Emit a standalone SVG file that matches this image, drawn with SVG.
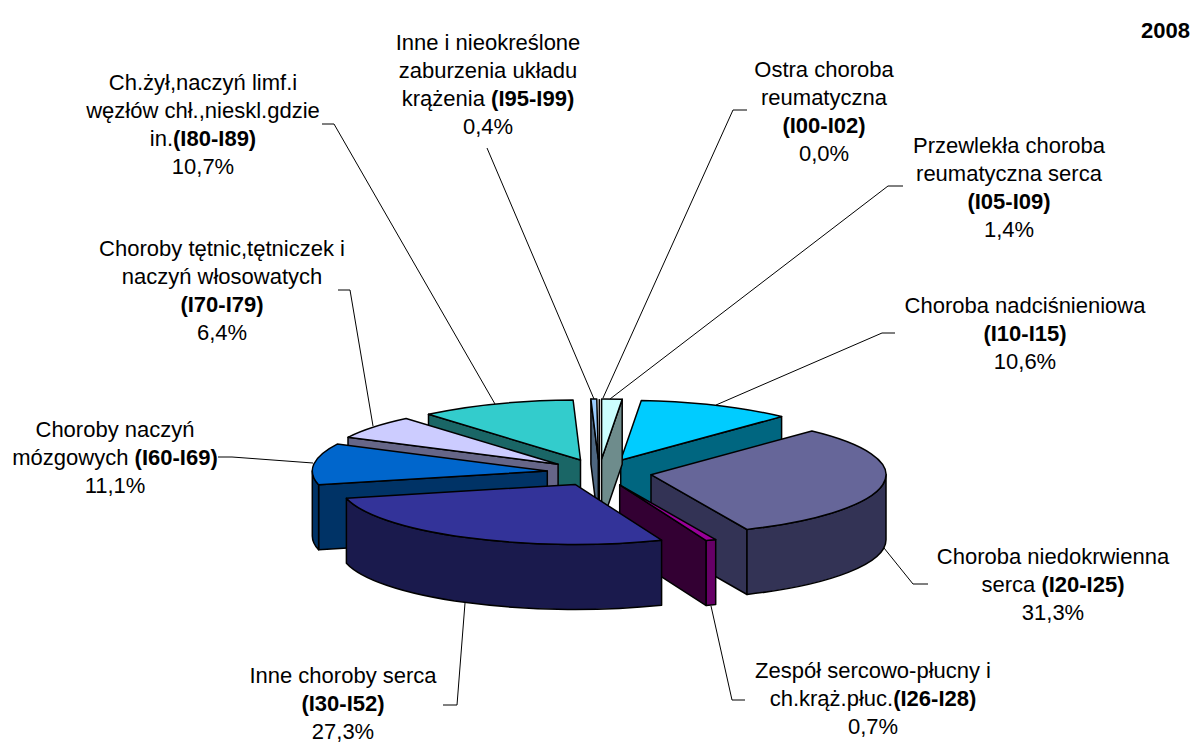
<svg xmlns="http://www.w3.org/2000/svg" width="1196" height="742" viewBox="0 0 1196 742">
<style>
text{font-family:"Liberation Sans",Arial,sans-serif;font-size:22px;fill:#000;text-anchor:middle}
.b{font-weight:bold}
.s path{stroke:#000;stroke-width:1.5;stroke-linejoin:round}
.lead{fill:none;stroke:#000;stroke-width:1}
</style>
<rect width="1196" height="742" fill="#fff"/>
<g id="slice-zyl" class="s">
<path d="M580.5,460 L428.5,414.3 L428.5,479.3 L580.5,525 Z" fill="#1A6666"/>
<path d="M580.5,460 L428.5,414.3 A235,60 0 0 1 573.1,400 Z" fill="#33CCCC"/>
</g>
<g id="slice-nadcisnieniowa" class="s">
<path d="M620.7,460.3 L781.6,416.6 L781.6,481.6 L620.7,525.3 Z" fill="#006680"/>
<path d="M620.7,460.3 L641.3,400.5 A235,60 0 0 1 781.6,416.6 Z" fill="#00CCFF"/>
</g>
<g id="slice-inne-nieokreslone" class="s">
<path d="M598.3,459.1 L590.9,399.1 L590.9,464.1 L598.3,524.1 Z" fill="#4D6680"/>
<path d="M598.3,459.1 L590.9,399.1 A235,60 0 0 1 596.8,399.1 Z" fill="#99CCFF"/>
</g>
<g id="slice-przewlekla" class="s">
<path d="M601.6,459.1 L622.2,399.3 L622.2,464.3 L601.6,524.1 Z" fill="#6E8C8C"/>
<path d="M601.6,459.1 L601.6,399.1 A235,60 0 0 1 622.2,399.3 Z" fill="#CCFFFF"/>
</g>
<g id="slice-ostra" class="s">
<path d="M599.3,399.1 L599.3,524.1" fill="none" stroke-width="2.5"/>
</g>
<g id="slice-tetnic" class="s">
<path d="M558.1,464.2 L348,437.3 L348,502.3 L558.1,529.2 Z" fill="#666688"/>
<path d="M558.1,464.2 L348,437.3 A235,60 0 0 1 406.1,418.5 Z" fill="#CCCCFF"/>
</g>
<g id="slice-mozgowych" class="s">
<path d="M547.3,471 L318.6,484.8 L318.6,549.8 L547.3,536 Z" fill="#003366"/>
<path d="M318.6,484.8 A235,60 0 0 1 312.3,471 L312.3,536 A235,60 0 0 0 318.6,549.8 Z" fill="#003366"/>
<path d="M547.3,471 L318.6,484.8 A235,60 0 0 1 337.2,444.1 Z" fill="#0066CC"/>
</g>
<g id="slice-niedokrwienna" class="s">
<path d="M651,474.7 L747,529.5 L747,594.5 L651,539.7 Z" fill="#333355"/>
<path d="M886,474.7 A235,60 0 0 1 747,529.5 L747,594.5 A235,60 0 0 0 886,539.7 Z" fill="#333355"/>
<path d="M651,474.7 L811.9,431 A235,60 0 0 1 747,529.5 Z" fill="#666699"/>
</g>
<g id="slice-zespol" class="s">
<path d="M619.7,484.8 L706.2,540.6 L706.2,605.6 L619.7,549.8 Z" fill="#330033"/>
<path d="M715.7,539.6 A235,60 0 0 1 706.2,540.6 L706.2,605.6 A235,60 0 0 0 715.7,604.6 Z" fill="#660066"/>
<path d="M619.7,484.8 L715.7,539.6 A235,60 0 0 1 706.2,540.6 Z" fill="#990099"/>
</g>
<g id="slice-inne-serca" class="s">
<path d="M661.6,540.2 A235,60 0 0 1 346.4,498.2 L346.4,563.2 A235,60 0 0 0 661.6,605.2 Z" fill="#1A1A4D"/>
<path d="M575.1,484.4 L661.6,540.2 A235,60 0 0 1 346.4,498.2 Z" fill="#333399"/>
</g>
<g id="connectors">
<polyline class="lead" points="487,148 594,399"/>
<polyline class="lead" points="747,110 733,110 603,398"/>
<polyline class="lead" points="903,186 888,186 610,399"/>
<polyline class="lead" points="895,333 882,333 716,405"/>
<polyline class="lead" points="928,584 913,584 884,548"/>
<polyline class="lead" points="745,700 732,700 711,606"/>
<polyline class="lead" points="443,705 457,705 465,603"/>
<polyline class="lead" points="218,457 232,457 313,463"/>
<polyline class="lead" points="338,290 350,290 373,426"/>
<polyline class="lead" points="322,124 334,124 495,404"/>
</g>
<g id="label-inne-nieokreslone">
<text x="488" y="50">Inne i nieokreślone</text>
<text x="488" y="78">zaburzenia układu</text>
<text x="488" y="106">krążenia <tspan class="b">(I95-I99)</tspan></text>
<text x="488" y="134">0,4%</text>
</g>
<g id="label-ostra">
<text x="824" y="77">Ostra choroba</text>
<text x="824" y="105">reumatyczna</text>
<text x="824" y="133" class="b">(I00-I02)</text>
<text x="824" y="161">0,0%</text>
</g>
<g id="label-przewlekla">
<text x="1009" y="153">Przewlekła choroba</text>
<text x="1009" y="181">reumatyczna serca</text>
<text x="1009" y="209" class="b">(I05-I09)</text>
<text x="1009" y="237">1,4%</text>
</g>
<g id="label-nadcisnieniowa">
<text x="1025" y="313">Choroba nadciśnieniowa</text>
<text x="1025" y="341" class="b">(I10-I15)</text>
<text x="1025" y="369">10,6%</text>
</g>
<g id="label-niedokrwienna">
<text x="1053" y="564">Choroba niedokrwienna</text>
<text x="1053" y="592">serca <tspan class="b">(I20-I25)</tspan></text>
<text x="1053" y="620">31,3%</text>
</g>
<g id="label-zespol">
<text x="873" y="678">Zespół sercowo-płucny i</text>
<text x="873" y="706">ch.krąż.płuc.<tspan class="b">(I26-I28)</tspan></text>
<text x="873" y="734">0,7%</text>
</g>
<g id="label-inne-serca">
<text x="343" y="683">Inne choroby serca</text>
<text x="343" y="711" class="b">(I30-I52)</text>
<text x="343" y="739">27,3%</text>
</g>
<g id="label-mozgowych">
<text x="115" y="437">Choroby naczyń</text>
<text x="115" y="465">mózgowych <tspan class="b">(I60-I69)</tspan></text>
<text x="115" y="493">11,1%</text>
</g>
<g id="label-tetnic">
<text x="222" y="256">Choroby tętnic,tętniczek i</text>
<text x="222" y="284">naczyń włosowatych</text>
<text x="222" y="312" class="b">(I70-I79)</text>
<text x="222" y="340">6,4%</text>
</g>
<g id="label-zyl">
<text x="203" y="90">Ch.żył,naczyń limf.i</text>
<text x="203" y="118">węzłów chł.,nieskl.gdzie</text>
<text x="203" y="146">in.<tspan class="b">(I80-I89)</tspan></text>
<text x="203" y="174">10,7%</text>
</g>
<g id="title">
<text x="1190" y="38" class="b" style="text-anchor:end">2008</text>
</g>
</svg>
